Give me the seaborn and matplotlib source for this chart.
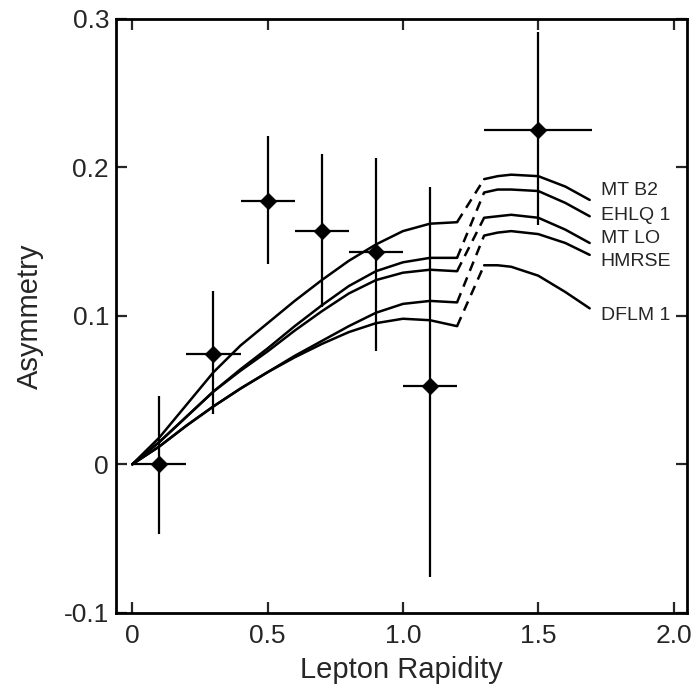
# Lepton charge asymmetry vs rapidity, data points and model curves
import seaborn as sns
import matplotlib.pyplot as plt
import pandas as pd

# Measured points
rapidity = [0.1, 0.3, 0.5, 0.7, 0.9, 1.1, 1.5]
asymmetry = [0.0, 0.074, 0.177, 0.157, 0.143, 0.053, 0.225]
err_low = [0.047, 0.040, 0.042, 0.051, 0.067, 0.129, 0.064]
err_high = [0.046, 0.043, 0.044, 0.052, 0.063, 0.134, 0.066]
bin_half = [0.1, 0.1, 0.1, 0.1, 0.1, 0.1, 0.2]

# Model curves, first section (0 - 1.2)
x_left = [0, 0.1, 0.2, 0.3, 0.4, 0.5, 0.6, 0.7, 0.8, 0.9, 1.0, 1.1, 1.2]
mt_b2_left = [0, 0.018, 0.040, 0.062, 0.080, 0.095, 0.110, 0.124, 0.137, 0.148, 0.157, 0.162, 0.163]
ehlq1_left = [0, 0.015, 0.032, 0.049, 0.064, 0.078, 0.093, 0.107, 0.120, 0.130, 0.136, 0.139, 0.139]
mt_lo_left = [0, 0.015, 0.032, 0.049, 0.063, 0.076, 0.090, 0.103, 0.115, 0.124, 0.129, 0.131, 0.130]
hmrse_left = [0, 0.012, 0.026, 0.039, 0.051, 0.062, 0.073, 0.083, 0.093, 0.102, 0.108, 0.110, 0.109]
dflm1_left = [0, 0.012, 0.026, 0.039, 0.051, 0.062, 0.072, 0.081, 0.089, 0.095, 0.098, 0.097, 0.093]

# Model curves, second section (1.3 - 1.7)
x_right = [1.3, 1.35, 1.4, 1.5, 1.6, 1.69]
mt_b2_right = [0.192, 0.194, 0.195, 0.194, 0.187, 0.178]
ehlq1_right = [0.183, 0.185, 0.185, 0.184, 0.176, 0.167]
mt_lo_right = [0.166, 0.167, 0.168, 0.166, 0.158, 0.149]
hmrse_right = [0.154, 0.156, 0.157, 0.155, 0.149, 0.141]
dflm1_right = [0.134, 0.134, 0.133, 0.127, 0.116, 0.105]

models = ["MT B2", "EHLQ 1", "MT LO", "HMRSE", "DFLM 1"]
lefts = [mt_b2_left, ehlq1_left, mt_lo_left, hmrse_left, dflm1_left]
rights = [mt_b2_right, ehlq1_right, mt_lo_right, hmrse_right, dflm1_right]
label_y = [0.1845, 0.1676, 0.152, 0.1365, 0.100]

sns.set_style("ticks")
plt.rcParams['font.family'] = ['Liberation Sans', 'DejaVu Sans']

fig = plt.figure(figsize=(6.99, 6.94), dpi=100)
ax = fig.add_axes([0.166, 0.117, 0.817, 0.856])

for name, yl, yr, ly in zip(models, lefts, rights, label_y):
    sns.lineplot(x=x_left, y=yl, color="black", lw=1.8, ax=ax, sort=False, estimator=None)
    sns.lineplot(x=x_right, y=yr, color="black", lw=1.8, ax=ax, sort=False, estimator=None)
    ax.plot([x_left[-1], x_right[0]], [yl[-1], yr[0]], color="black", lw=1.8,
            dashes=(4, 2.8))
    ax.text(1.73, ly, name, fontsize=14, va="center", ha="left")

pts = pd.DataFrame({"Rapidity": rapidity, "Asymmetry": asymmetry})
ax.errorbar(rapidity, asymmetry, yerr=[err_low, err_high], xerr=bin_half,
            fmt="none", ecolor="black", elinewidth=1.6, capsize=0)
sns.scatterplot(data=pts, x="Rapidity", y="Asymmetry", marker="D", s=70,
                color="black", edgecolor="black", ax=ax, zorder=5)

ax.set_xlim(-0.06, 2.05)
ax.set_ylim(-0.1, 0.3)
ax.set_xticks([0, 0.5, 1.0, 1.5, 2.0])
ax.set_xticklabels(["0", "0.5", "1.0", "1.5", "2.0"])
ax.set_yticks([-0.1, 0, 0.1, 0.2, 0.3])
ax.set_yticklabels(["-0.1", "0", "0.1", "0.2", "0.3"])
ax.tick_params(direction="in", length=8, width=1.6, labelsize=19,
               top=True, right=True, pad=5)
ax.tick_params(axis="x", pad=8)
for s in ax.spines.values():
    s.set_linewidth(2)
    s.set_color("black")

ax.set_xlabel("Lepton Rapidity", fontsize=21, labelpad=6)
ax.set_ylabel("Asymmetry", fontsize=21, labelpad=14)

fig.savefig("out.png", dpi=100)
